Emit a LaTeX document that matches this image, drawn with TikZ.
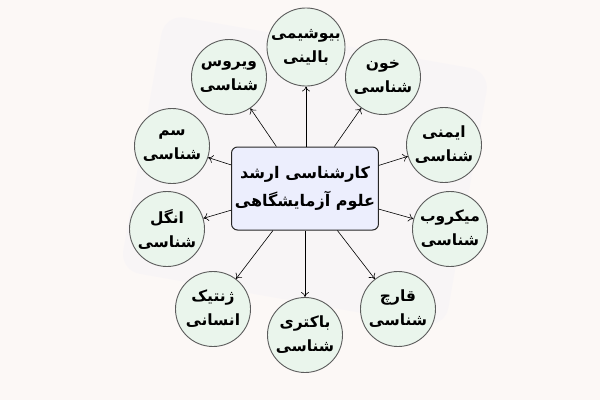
\documentclass[tikz,border=0pt]{standalone}
\usepackage{fontspec}
\usetikzlibrary{arrows.meta}
\newfontfamily\arabicfont[Script=Arabic]{DejaVu Sans}
\TeXXeTstate=1
\newcommand{\fa}[1]{\beginR #1\endR}
\definecolor{bgcol}{HTML}{FCF8F6}
\definecolor{markcol}{HTML}{F8F5F6}
\definecolor{circfill}{HTML}{EAF5EC}
\definecolor{boxfill}{HTML}{ECEEFD}
\definecolor{edgecol}{HTML}{5C5C5C}
\begin{document}
\begin{tikzpicture}[x=1pt,y=-1pt,
  topic/.style={circle, draw=edgecol, line width=0.9pt, fill=circfill,
    minimum size=75pt, inner sep=0pt, align=center,
    font=\arabicfont\bfseries\fontsize{15.5}{24}\selectfont},
  hub/.style={rectangle, rounded corners=6pt, draw=black!85, line width=1pt,
    fill=boxfill, minimum width=140pt, minimum height=83pt, align=center,
    font=\arabicfont\bfseries\fontsize{16}{28}\selectfont},
  link/.style={-{To[length=5pt,width=8pt]}, line width=0.6pt, black}]
\fill[bgcol] (0,0) rectangle (600,400);
\useasboundingbox (0,0) rectangle (600,400);
% faint watermark
\fill[markcol, rounded corners=20pt, rotate around={-10:(300,170)}] (140,40) rectangle (470,300);

\node[hub] (hub) at (305,188.5) {\fa{کارشناسی ارشد}\\\fa{علوم آزمایشگاهی}};

\node[topic] (bio) at (306,47) {\fa{بیوشیمی}\\\fa{بالینی}};
\node[topic] (vir) at (229,77) {\fa{ویروس}\\\fa{شناسی}};
\node[topic] (khun) at (383,77) {\fa{خون}\\\fa{شناسی}};
\node[topic] (sam) at (172,146) {\fa{سم}\\\fa{شناسی}};
\node[topic] (imm) at (444,145) {\fa{ایمنی}\\\fa{شناسی}};
\node[topic] (angal) at (167,229) {\fa{انگل}\\\fa{شناسی}};
\node[topic] (mic) at (450,229) {\fa{میکروب}\\\fa{شناسی}};
\node[topic] (gen) at (213,309) {\fa{ژنتیک}\\\fa{انسانی}};
\node[topic] (bac) at (305,335) {\fa{باکتری}\\\fa{شناسی}};
\node[topic] (fung) at (398,309) {\fa{قارچ}\\\fa{شناسی}};

\draw[link] (hub.north -| bio) -- (bio);
\draw[link] (hub) -- (vir);
\draw[link] (hub) -- (khun);
\draw[link] (hub) -- (sam);
\draw[link] (hub) -- (imm);
\draw[link] (hub) -- (angal);
\draw[link] (hub) -- (mic);
\draw[link] (hub) -- (gen);
\draw[link] (hub.south -| bac) -- (bac);
\draw[link] (hub) -- (fung);
\end{tikzpicture}
\end{document}
